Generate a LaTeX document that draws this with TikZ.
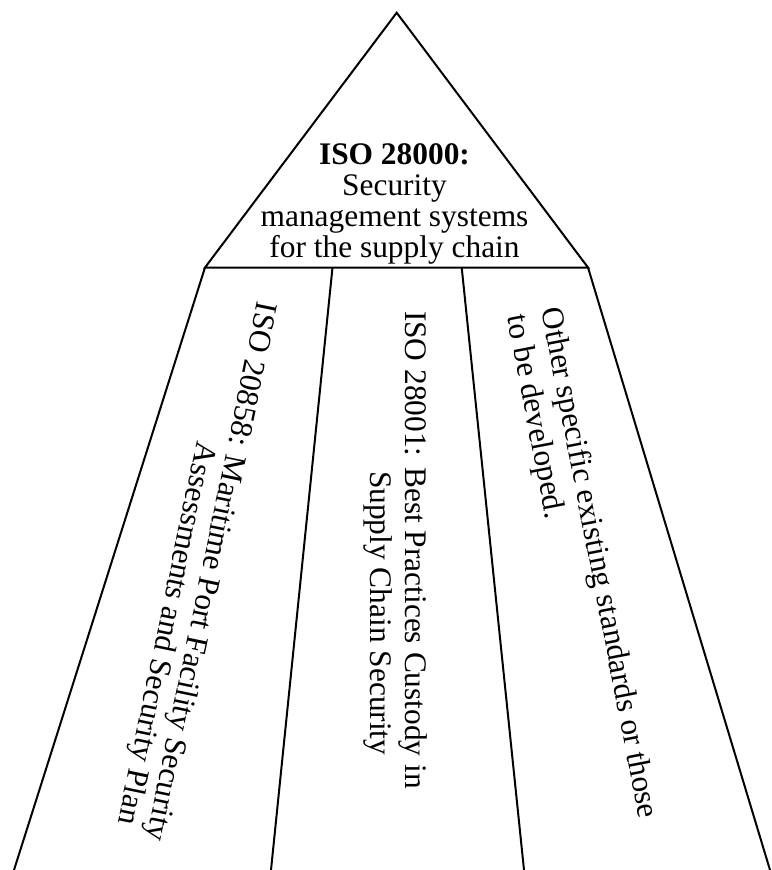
\documentclass[tikz,border=0pt]{standalone}
\usepackage{fontspec}
\setmainfont{Liberation Serif}
\begin{document}
\begin{tikzpicture}[x=1pt,y=-1pt, line width=2pt, line join=miter,
  txt/.style={inner sep=0pt, font=\fontsize{31.4}{35}\selectfont},
  edge/.style={draw=black}]
\useasboundingbox (0,0) rectangle (771,870);
\fill[white] (0,0) rectangle (771,870);
% corners
\coordinate (apex) at (396.7,12.7);
\coordinate (bl) at (205,267.5);
\coordinate (br) at (588,267.5);
\coordinate (d1t) at (332.5,267.5);
\coordinate (d2t) at (461.7,267.5);
\coordinate (lb) at (14,870);
\coordinate (d1b) at (271,870);
\coordinate (d2b) at (524,870);
\coordinate (rb) at (770,870);
% shapes
\draw[edge] (bl) -- (apex) -- (br) -- cycle;
\draw[edge] (bl) -- (lb);
\draw[edge] (d1t) -- (d1b);
\draw[edge] (d2t) -- (d2b);
\draw[edge] (br) -- (rb);
% title
\node[txt, font=\fontsize{31.4}{31}\selectfont, align=center, anchor=south] (title) at (394.5,265.1)
  {\textbf{ISO 28000:}\\Security\\management systems\\for the supply chain};
% left panel
\node[txt, rotate=-101.7, anchor=base west] (l1) at (258,300) {ISO 20858: Maritime Port Facility Security};
\node[txt, rotate=-101.7, anchor=base east] (l2) at (118,823.5) {Assessments and Security Plan};
% middle panel
\node[txt, rotate=-90, anchor=base west] (m1) at (405,310) {ISO 28001: Best Practices Custody in};
\node[txt, rotate=-90, anchor=base west] (m2) at (370,470) {Supply Chain Security};
% right panel
\node[txt, rotate=-79.1, anchor=base west] (r1) at (541,309) {Other specific existing standards or those};
\node[txt, rotate=-79.1, anchor=base west] (r2) at (507,316) {to be developed.};
\end{tikzpicture}
\end{document}
